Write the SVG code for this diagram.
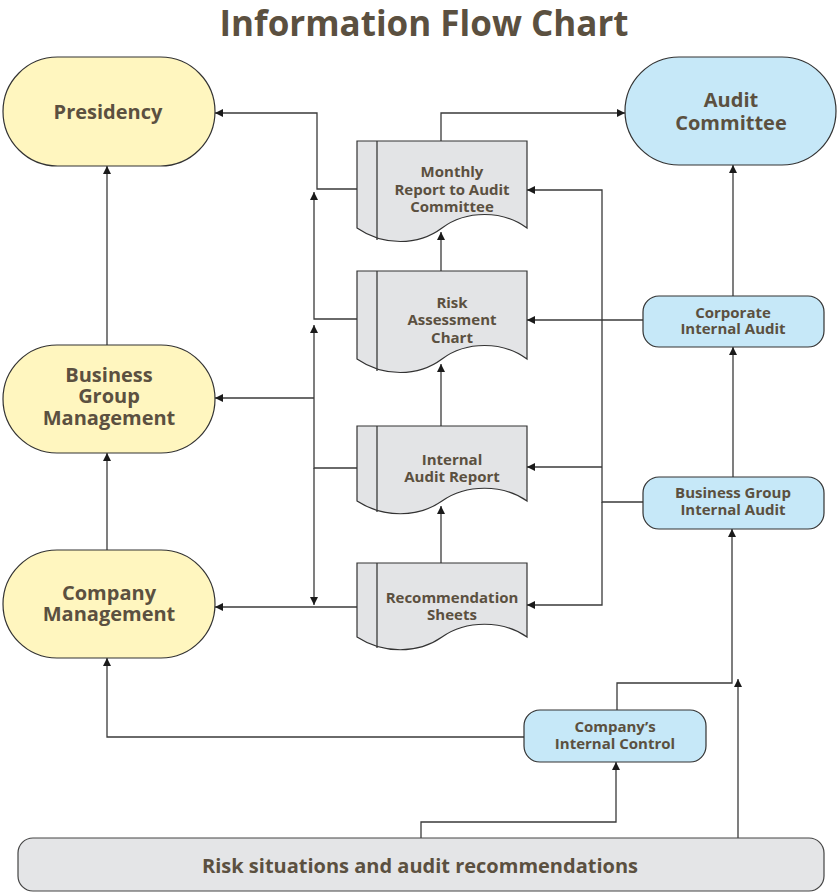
<svg xmlns="http://www.w3.org/2000/svg" width="837" height="893" viewBox="0 0 837 893">
<style>
.t{font-family:"Open Sans","Noto Sans","DejaVu Sans",sans-serif;font-weight:bold;fill:#5b5040;text-anchor:middle}
.big{font-size:20px}
.sm{font-size:15px}
.yel{fill:#fff6bf;stroke:#333;stroke-width:1.2}
.blu{fill:#c6e8f8;stroke:#333;stroke-width:1.2}
.doc{fill:#e3e4e6;stroke:#333;stroke-width:1.2}
.gry{fill:#e4e5e7;stroke:#444;stroke-width:1.2}
.c{fill:none;stroke:#3a3a3a;stroke-width:1.3}
</style>
<defs>
<marker id="arr" viewBox="0 0 10 10" refX="10" refY="5" markerWidth="9" markerHeight="8" markerUnits="userSpaceOnUse" orient="auto"><path d="M0,0 L10,5 L0,10 z" fill="#1a1a1a"/></marker>
</defs>
<rect width="837" height="893" fill="#fff"/>
<text class="t" x="424" y="36" style="font-size:35px">Information Flow Chart</text>

<g id="connectors">
<path class="c" marker-end="url(#arr)" d="M441,141 V113 H625"/>
<path class="c" marker-end="url(#arr)" d="M357,189 H317 V113 H215"/>
<path class="c" marker-end="url(#arr)" d="M357,319 H314 V192"/>
<path class="c" marker-end="url(#arr)" d="M357,468 H314 V325"/>
<path class="c" marker-end="url(#arr)" d="M314,398 H215"/>
<path class="c" marker-end="url(#arr)" d="M314,468 V605"/>
<path class="c" marker-end="url(#arr)" d="M357,607 H215"/>
<path class="c" marker-end="url(#arr)" d="M643,502 H602 V190 H527"/>
<path class="c" marker-end="url(#arr)" d="M602,467 H527"/>
<path class="c" marker-end="url(#arr)" d="M602,502 V605 H527"/>
<path class="c" marker-end="url(#arr)" d="M643,320 H527"/>
<path class="c" marker-end="url(#arr)" d="M733,296 V165"/>
<path class="c" marker-end="url(#arr)" d="M733,477 V347"/>
<path class="c" marker-end="url(#arr)" d="M617,710 V683 H732 V529"/>
<path class="c" marker-end="url(#arr)" d="M738,838 V679"/>
<path class="c" marker-end="url(#arr)" d="M421,838 V822 H616 V762"/>
<path class="c" marker-end="url(#arr)" d="M524,737 H107 V658"/>
<path class="c" marker-end="url(#arr)" d="M107,550 V453"/>
<path class="c" marker-end="url(#arr)" d="M107,345 V166"/>
<path class="c" marker-end="url(#arr)" d="M441,563 V506"/>
<path class="c" marker-end="url(#arr)" d="M441,426 V364"/>
<path class="c" marker-end="url(#arr)" d="M441,271 V232"/>
</g>

<g id="presidency">
<rect class="yel" x="3" y="57" width="212" height="109" rx="54.5"/>
<text class="t big" x="108" y="119">Presidency</text>
</g>
<g id="audit-committee">
<rect class="blu" x="625" y="57" width="211" height="108" rx="54"/>
<text class="t big"><tspan x="731" y="107">Audit</tspan><tspan x="731" y="130">Committee</tspan></text>
</g>
<g id="business-group-management">
<rect class="yel" x="3" y="345" width="212" height="108" rx="54"/>
<text class="t big"><tspan x="109" y="382">Business</tspan><tspan x="109" y="403">Group</tspan><tspan x="109" y="425">Management</tspan></text>
</g>
<g id="company-management">
<rect class="yel" x="3" y="550" width="212" height="108" rx="54"/>
<text class="t big"><tspan x="109" y="600">Company</tspan><tspan x="109" y="621">Management</tspan></text>
</g>

<g id="monthly-report">
<path class="doc" d="M357,141 H527 V228 C503,210 466,210 442,228 C418,246 383,246 357,228 Z"/>
<path class="c" d="M377,141 V240"/>
<text class="t sm"><tspan x="452" y="177">Monthly</tspan><tspan x="452" y="194.5">Report to Audit</tspan><tspan x="452" y="212">Committee</tspan></text>
</g>
<g id="risk-assessment">
<path class="doc" d="M357,271 H527 V359 C503,341 466,341 442,359 C418,377 383,377 357,359 Z"/>
<path class="c" d="M377,271 V371"/>
<text class="t sm"><tspan x="452" y="308">Risk</tspan><tspan x="452" y="325">Assessment</tspan><tspan x="452" y="343">Chart</tspan></text>
</g>
<g id="internal-audit-report">
<path class="doc" d="M357,426 H527 V501 C503,484 466,484 442,501 C418,518 383,518 357,501 Z"/>
<path class="c" d="M377,426 V512"/>
<text class="t sm"><tspan x="452" y="465">Internal</tspan><tspan x="452" y="482">Audit Report</tspan></text>
</g>
<g id="recommendation-sheets">
<path class="doc" d="M357,563 H527 V637 C503,620 466,620 442,637 C418,654 383,654 357,637 Z"/>
<path class="c" d="M377,563 V648"/>
<text class="t sm"><tspan x="452" y="603">Recommendation</tspan><tspan x="452" y="620">Sheets</tspan></text>
</g>

<g id="corporate-internal-audit">
<rect class="blu" x="643" y="296" width="181" height="51" rx="16"/>
<text class="t sm"><tspan x="733" y="318">Corporate</tspan><tspan x="733" y="334">Internal Audit</tspan></text>
</g>
<g id="business-group-internal-audit">
<rect class="blu" x="643" y="477" width="181" height="52" rx="16"/>
<text class="t sm"><tspan x="733" y="498">Business Group</tspan><tspan x="733" y="515">Internal Audit</tspan></text>
</g>
<g id="company-internal-control">
<rect class="blu" x="524" y="710" width="182" height="52" rx="16"/>
<text class="t sm"><tspan x="615" y="732">Company’s</tspan><tspan x="615" y="749">Internal Control</tspan></text>
</g>
<g id="risk-situations">
<rect class="gry" x="18" y="838" width="806" height="53" rx="15"/>
<text class="t big" x="420" y="873">Risk situations and audit recommendations</text>
</g>
</svg>
